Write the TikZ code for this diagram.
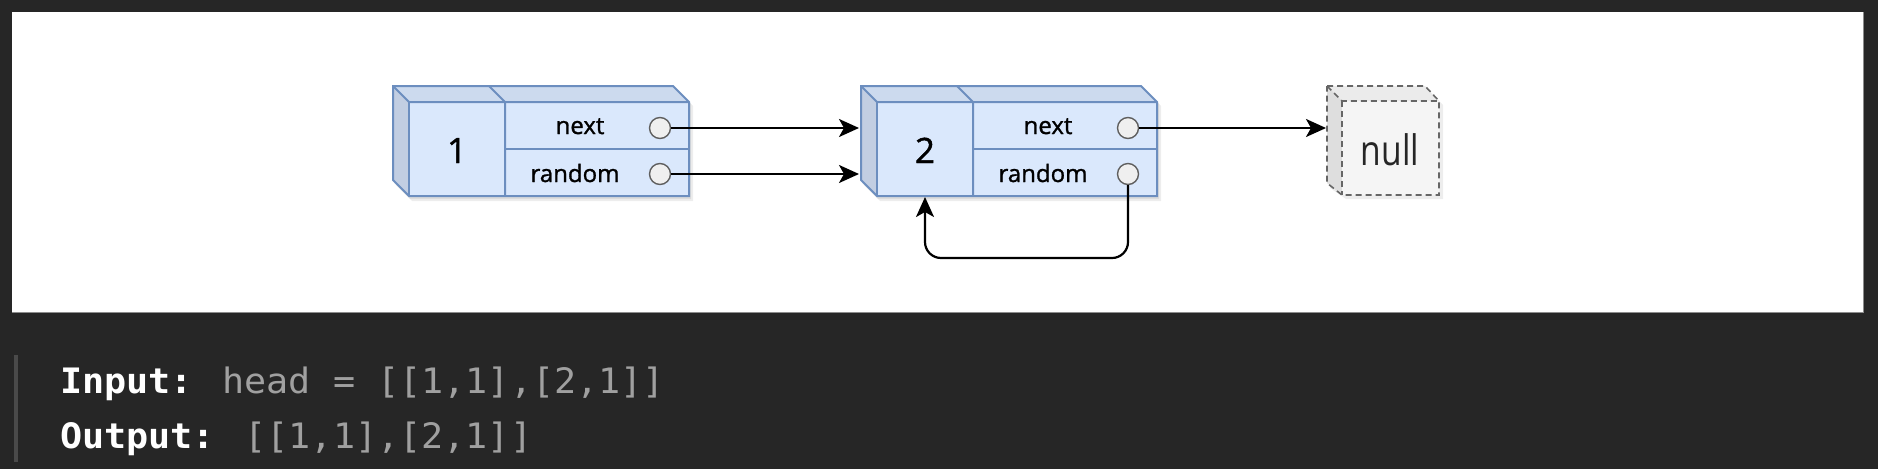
\documentclass[tikz,border=0pt]{standalone}
\usepackage{fontspec}
\usetikzlibrary{arrows.meta}
\newfontfamily\labfont[FakeBold=1.2]{Open Sans}
\newfontfamily\nulltxtfont{Open Sans}
\newfontfamily\codefont[FakeStretch=1.05]{DejaVu Sans Mono}
\definecolor{bgdark}{HTML}{262626}
\definecolor{blfill}{HTML}{DAE8FC}
\definecolor{bltop}{HTML}{CCDAEE}
\definecolor{blside}{HTML}{C2CEE2}
\definecolor{blline}{HTML}{6C8EBF}
\definecolor{portfill}{HTML}{EFEFEF}
\definecolor{portline}{HTML}{5F5F5F}
\definecolor{codegray}{HTML}{A0A0A0}
\definecolor{barcol}{HTML}{4A4A4A}
\tikzset{
  boxline/.style={draw=blline, line width=2pt, line join=miter},
  port/.style={circle, draw=portline, fill=portfill, line width=1.4pt, minimum size=21pt, inner sep=0pt},
  conn/.style={draw=black, line width=2.2pt, -{Stealth[length=20pt,width=18pt,inset=5pt]}},
  fieldlabel/.style={font=\labfont\fontsize{24}{28}\selectfont, anchor=base, inner sep=0pt},
  numlabel/.style={font=\labfont\fontsize{35}{40}\selectfont, anchor=base, inner sep=0pt},
  shade/.style={fill=black, opacity=0.07},
  nullline/.style={draw=black!60, line width=1.6pt, dash pattern=on 6pt off 4pt},
}
\newcommand\listnode[3]{%
  \begin{scope}[shift={(#1,0)}]
    \fill[shade] (3,90) -- (284,90) -- (300,106) -- (300,201) -- (19,201) -- (3,185) -- cycle;
    \fill[shade] (1,88) -- (282,88) -- (298,104) -- (298,199) -- (17,199) -- (1,183) -- cycle;
    \fill[bltop] (0,86) -- (280,86) -- (296,102) -- (16,102) -- cycle;
    \fill[blside] (0,86) -- (16,102) -- (16,196) -- (0,180) -- cycle;
    \fill[blfill] (16,102) rectangle (296,196);
    \draw[boxline] (0,86) -- (280,86) -- (296,102) -- (296,196) -- (16,196) -- (0,180) -- cycle;
    \draw[boxline] (0,86) -- (16,102) -- (296,102);
    \draw[boxline] (16,102) -- (16,196);
    \draw[boxline] (96,86) -- (112,102) -- (112,196);
    \draw[blline, line width=2.6pt] (112,149) -- (296,149);
    \node[numlabel] (#2num) at (64,163) {#3};
    \node[fieldlabel] (#2nt) at (187,134) {next};
    \node[fieldlabel] (#2rt) at (182,182) {random};
    \node[port] (#2n) at (267,128) {};
    \node[port] (#2r) at (267,174) {};
    \coordinate (#2inA) at (-2,128);
    \coordinate (#2inB) at (-2,174);
    \coordinate (#2bot) at (64,197);
  \end{scope}}
\begin{document}
\begin{tikzpicture}[x=1pt,y=-1pt]
\useasboundingbox (0,0) rectangle (1878,469);
\fill[bgdark] (0,0) rectangle (1878,469);
\fill[white] (12,12) rectangle (1863,312);
\draw[black!45, line width=0.8pt] (1863,12) -- (1863,312) -- (12,312);
% list nodes
\listnode{393}{a}{1}
\listnode{861}{b}{2}
% null cube
\fill[shade] (1330,90) -- (1428,90) -- (1443,105) -- (1443,199) -- (1346,199) -- (1330,188) -- cycle;
\fill[black!8] (1327,86) -- (1425,86) -- (1439,101) -- (1342,101) -- cycle;
\fill[black!13] (1327,86) -- (1342,101) -- (1342,195) -- (1327,183) -- cycle;
\fill[black!4] (1342,101) rectangle (1439,195);
\draw[nullline] (1327,86) -- (1425,86) -- (1439,101) -- (1439,195) -- (1342,195) -- (1327,183) -- cycle;
\draw[nullline] (1327,86) -- (1342,101) -- (1439,101);
\draw[nullline] (1342,101) -- (1342,195);
\node[font=\nulltxtfont\fontsize{42}{48}\selectfont, text=black!85, inner sep=0pt] (nullbox) at (1390,150) {\scalebox{0.8}[1]{null}};
\coordinate (nullin) at (1326,128);
% connectors
\draw[conn] (an) -- (binA);
\draw[conn] (ar) -- (binB);
\draw[conn] (bn) -- (nullin);
\draw[conn, rounded corners=16pt] (br.south) -- (1128,258) -| (bbot);
% code text
\fill[barcol] (14,355) rectangle (18,462);
\node[anchor=base west, inner sep=0pt, font=\codefont\fontsize{35}{40}\selectfont] (inp) at (60,393)
  {\textcolor{white}{\bfseries Input:} \textcolor{codegray}{head = [[1,1],[2,1]]}};
\node[anchor=base west, inner sep=0pt, font=\codefont\fontsize{35}{40}\selectfont] (outp) at (60,448)
  {\textcolor{white}{\bfseries Output:} \textcolor{codegray}{[[1,1],[2,1]]}};
\end{tikzpicture}
\end{document}
